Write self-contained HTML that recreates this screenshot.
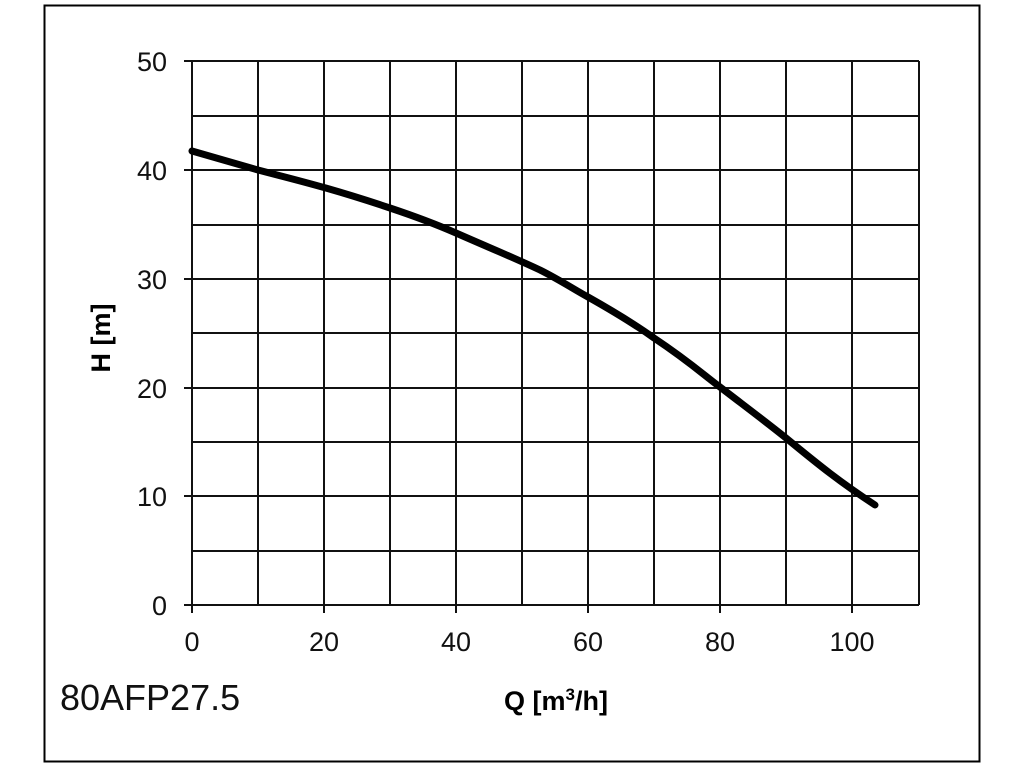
<!DOCTYPE html>
<html><head><style>body{margin:0;background:#fff;}svg{display:block}
text{font-family:"Liberation Sans",Arial,sans-serif;}
.t{font-size:27px;fill:#111}
.b{font-size:27px;font-weight:bold;fill:#000}
</style></head>
<body>
<svg width="1024" height="768" xmlns="http://www.w3.org/2000/svg">
<rect x="44.5" y="5.5" width="935" height="756" fill="none" stroke="#000" stroke-width="2"/>
<g stroke="#111" stroke-width="2">
<line x1="258" y1="61" x2="258" y2="605"/>
<line x1="324" y1="61" x2="324" y2="613"/>
<line x1="390" y1="61" x2="390" y2="605"/>
<line x1="456" y1="61" x2="456" y2="613"/>
<line x1="522" y1="61" x2="522" y2="605"/>
<line x1="588" y1="61" x2="588" y2="613"/>
<line x1="654" y1="61" x2="654" y2="605"/>
<line x1="720" y1="61" x2="720" y2="613"/>
<line x1="786" y1="61" x2="786" y2="605"/>
<line x1="852" y1="61" x2="852" y2="613"/>
<line x1="919" y1="61" x2="919" y2="605"/>
<line x1="192" y1="61" x2="192" y2="613"/>
<line x1="184" y1="61" x2="919" y2="61"/>
<line x1="192" y1="116" x2="919" y2="116"/>
<line x1="184" y1="170" x2="919" y2="170"/>
<line x1="192" y1="225" x2="919" y2="225"/>
<line x1="184" y1="279" x2="919" y2="279"/>
<line x1="192" y1="333" x2="919" y2="333"/>
<line x1="184" y1="388" x2="919" y2="388"/>
<line x1="192" y1="442" x2="919" y2="442"/>
<line x1="184" y1="496" x2="919" y2="496"/>
<line x1="192" y1="551" x2="919" y2="551"/>
<line x1="184" y1="605" x2="919" y2="605"/>
</g>
<path d="M192,151 C220,159 240,165 258,170 C300,181 330,188 390,208 C420,218 440,226 456,233 C490,248 510,256 540,270 C560,280 575,290 588,297 C620,315 640,328 654,338 C690,362 705,376 720,387 C750,410 770,425 786,438 C820,466 840,482 875,505" fill="none" stroke="#000" stroke-width="7" stroke-linecap="round"/>
<g text-anchor="end">
<text class="t" x="167" y="71">50</text><text class="t" x="167" y="180">40</text><text class="t" x="167" y="289">30</text>
<text class="t" x="167" y="398">20</text><text class="t" x="167" y="506">10</text><text class="t" x="167" y="615">0</text>
</g>
<g text-anchor="middle">
<text class="t" x="192" y="651">0</text><text class="t" x="324" y="651">20</text><text class="t" x="456" y="651">40</text>
<text class="t" x="588" y="651">60</text><text class="t" x="720" y="651">80</text><text class="t" x="852" y="651">100</text>
</g>
<text class="b" x="556" y="710" text-anchor="middle">Q [m<tspan style="font-size:17px" dy="-10">3</tspan><tspan dy="10">/h]</tspan></text>
<text class="b" transform="translate(110,338) rotate(-90)" text-anchor="middle">H [m]</text>
<text x="60" y="710" style="font-size:36px;fill:#111">80AFP27.5</text>
</svg>
</body></html>
